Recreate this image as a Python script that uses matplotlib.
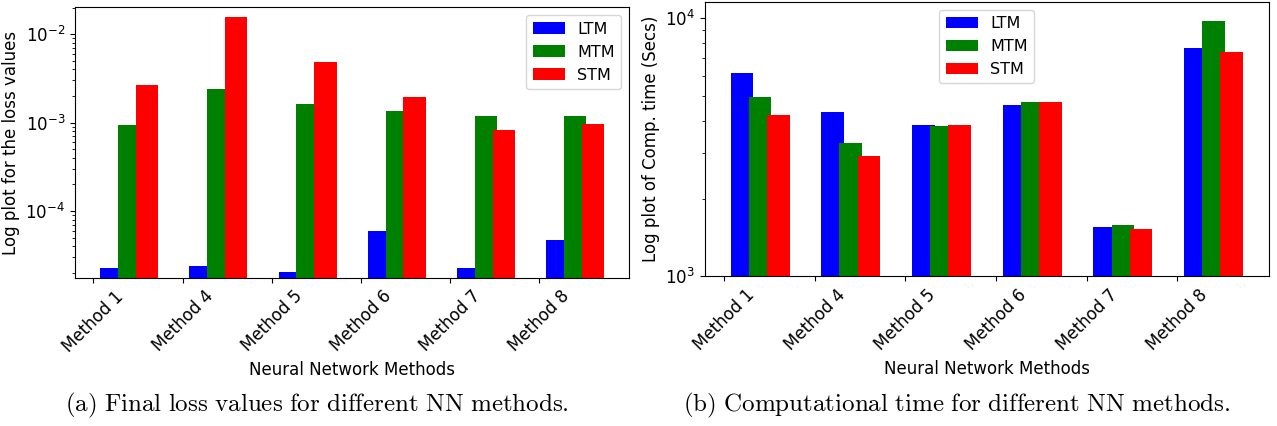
import numpy as np
import matplotlib
matplotlib.use("Agg")
import matplotlib.pyplot as plt

plt.rcParams['mathtext.fontset'] = 'cm'
plt.rcParams['font.size'] = 12

methods = ["Method 1", "Method 4", "Method 5", "Method 6", "Method 7", "Method 8"]

# final loss values
loss_ltm = [2.25e-5, 2.4e-5, 2.05e-5, 5.9e-5, 2.25e-5, 4.7e-5]
loss_mtm = [9.5e-4, 2.4e-3, 1.63e-3, 1.34e-3, 1.2e-3, 1.18e-3]
loss_stm = [2.67e-3, 1.58e-2, 4.8e-3, 1.93e-3, 8.3e-4, 9.7e-4]

# computational time in seconds
time_ltm = [6165, 4330, 3860, 4620, 1556, 7656]
time_mtm = [4977, 3275, 3824, 4734, 1579, 9730]
time_stm = [4227, 2928, 3857, 4734, 1523, 7390]

x = np.arange(len(methods))
w = 0.25

fig = plt.figure(figsize=(12.77, 4.26), dpi=100)
ax1 = fig.add_axes([0.0587, 0.3481, 0.4341, 0.6348])
ax2 = fig.add_axes([0.5521, 0.3514, 0.4414, 0.6450])


def draw(ax, ltm, mtm, stm, ylabel, ylim, loc):
    ax.set_yscale('log')
    ax.bar(x + 0.2, ltm, width=w, color='b', label='LTM')
    ax.bar(x + 0.4, mtm, width=w, color='g', label='MTM')
    ax.bar(x + 0.6, stm, width=w, color='r', label='STM')
    ax.set_xticks(x)
    ax.set_xticklabels(methods, rotation=45)
    ax.set_ylim(*ylim)
    ax.set_xlabel('Neural Network Methods')
    ax.set_ylabel(ylabel)
    ax.legend(loc=loc, fontsize=11.5)


draw(ax1, loss_ltm, loss_mtm, loss_stm, 'Log plot for the loss values',
     (1.76e-5, 2.02e-2), 'upper right')
draw(ax2, time_ltm, time_mtm, time_stm, 'Log plot of Comp. time (Secs)',
     (1000, 11620), 'upper center')

fig.text(0.248, 0.048, r'$\mathrm{(a)\ Final\ loss\ values\ for\ different\ NN\ methods.}$',
         ha='center', va='center', fontsize=18)
fig.text(0.749, 0.048, r'$\mathrm{(b)\ Computational\ time\ for\ different\ NN\ methods.}$',
         ha='center', va='center', fontsize=18)

plt.savefig('out.png', dpi=100)
